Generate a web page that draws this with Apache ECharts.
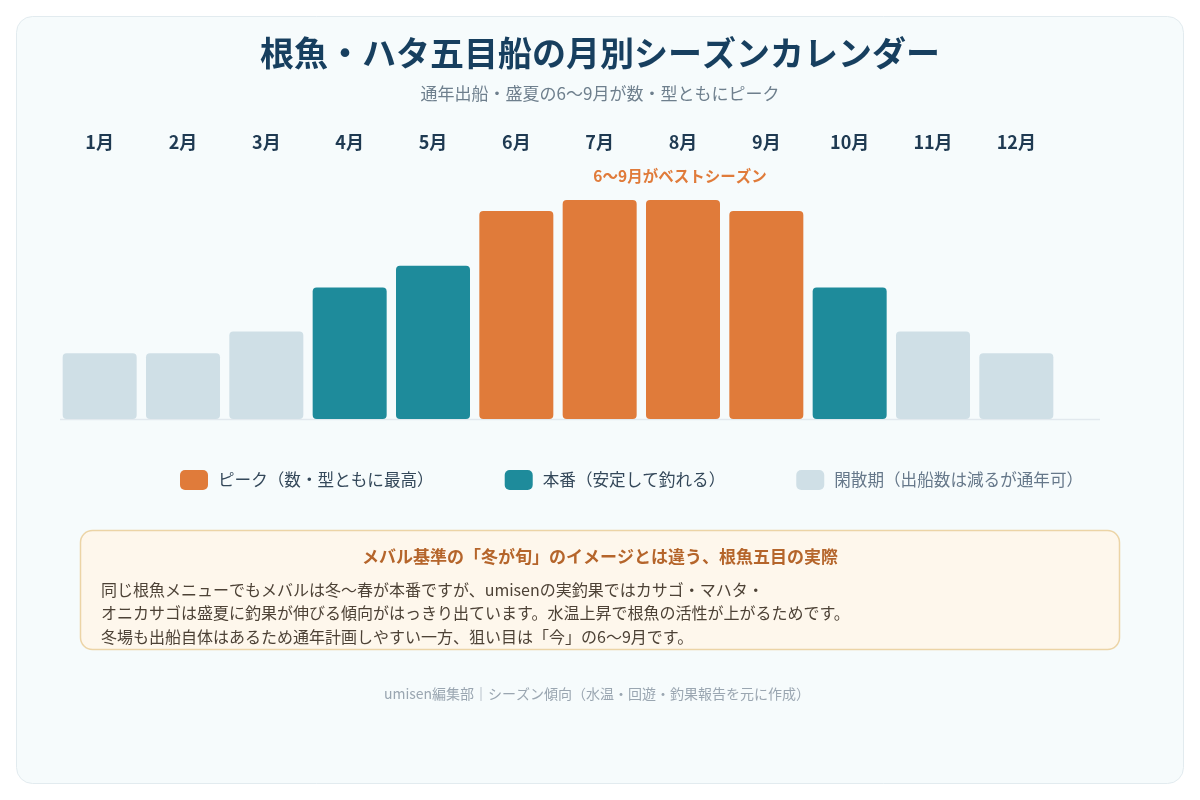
<!DOCTYPE html>
<html>
<head>
<meta charset="utf-8">
<script src="https://cdn.jsdelivr.net/npm/echarts@6/dist/echarts.min.js"></script>
<style>
  html, body { margin: 0; padding: 0; background: #ffffff; }
  #main { width: 1200px; height: 800px; }
</style>
</head>
<body>
<div id="main"></div>
<script>
var FONT = "'Noto Sans CJK JP', 'Noto Sans', sans-serif";

// data
var months = ['1月', '2月', '3月', '4月', '5月', '6月', '7月', '8月', '9月', '10月', '11月', '12月'];
var seasonValues = [30, 30, 40, 60, 70, 95, 100, 100, 95, 60, 40, 30];
var seasonLevels = ['off', 'off', 'off', 'main', 'main', 'peak', 'peak', 'peak', 'peak', 'main', 'off', 'off'];
var levelKeys = ['peak', 'main', 'off'];
var levelNames = ['ピーク（数・型ともに最高）', '本番（安定して釣れる）', '閑散期（出船数は減るが通年可）'];
var levelColors = ['#E07B3A', '#1E8B9B', '#CFDFE6'];
var levelTextColors = ['#34485a', '#34485a', '#66788a'];
var bestSeasonText = '6〜9月がベストシーズン';
var bestSeasonMonth = '8月';

var noteTitle = 'メバル基準の「冬が旬」のイメージとは違う、根魚五目の実際';
var noteLines = [
    '同じ根魚メニューでもメバルは冬〜春が本番ですが、umisenの実釣果ではカサゴ・マハタ・',
    'オニカサゴは盛夏に釣果が伸びる傾向がはっきり出ています。水温上昇で根魚の活性が上がるためです。',
    '冬場も出船自体はあるため通年計画しやすい一方、狙い目は「今」の6〜9月です。'
];
var footerText = 'umisen編集部｜シーズン傾向（水温・回遊・釣果報告を元に作成）';

var myChart = echarts.init(document.getElementById('main'));

var series = levelKeys.map(function (key, k) {
    return {
        name: levelNames[k],
        type: 'bar',
        stack: 'season',
        barWidth: 74,
        itemStyle: { color: levelColors[k], borderRadius: 4 },
        data: seasonValues.map(function (v, i) {
            if (seasonLevels[i] !== key) return null;
            if (months[i] === bestSeasonMonth) {
                return {
                    value: v,
                    label: {
                        show: true,
                        position: 'top',
                        distance: 16,
                        offset: [-3, 0],
                        formatter: bestSeasonText,
                        color: '#E07B3A',
                        fontWeight: 'bold',
                        fontSize: 15.5,
                        fontFamily: FONT
                    }
                };
            }
            return v;
        })
    };
});

var option = {
    backgroundColor: '#ffffff',
    animation: false,
    title: {
        text: '根魚・ハタ五目船の月別シーズンカレンダー',
        subtext: '通年出船・盛夏の6〜9月が数・型ともにピーク',
        left: 'center',
        top: 28,
        itemGap: 11,
        textStyle: {
            fontFamily: FONT,
            fontSize: 34,
            lineHeight: 40,
            fontWeight: 'bold',
            color: '#173f5f'
        },
        subtextStyle: {
            fontFamily: FONT,
            fontSize: 17,
            lineHeight: 20,
            color: '#6e7f8d'
        }
    },
    legend: {
        left: 180,
        top: 470,
        padding: 0,
        itemWidth: 28,
        itemHeight: 20,
        itemGap: 71,
        icon: 'roundRect',
        textStyle: { fontFamily: FONT, fontSize: 16.6, padding: [0, 0, 0, 5] },
        data: levelNames.map(function (n, k) {
            return { name: n, textStyle: { color: levelTextColors[k] } };
        })
    },
    grid: { left: 58, width: 1000, top: 200, height: 219 },
    xAxis: [{
        type: 'category',
        data: months,
        position: 'bottom',
        axisLine: { show: false },
        axisTick: { show: false },
        axisLabel: { show: false }
    }, {
        type: 'category',
        data: months,
        position: 'top',
        axisLine: { show: false },
        axisTick: { show: false },
        axisLabel: {
            margin: 49,
            fontFamily: FONT,
            fontSize: 18,
            fontWeight: 'bold',
            color: '#1f3a52'
        }
    }],
    yAxis: {
        type: 'value',
        min: 0,
        max: 100,
        show: false
    },
    series: series,
    graphic: [
        {
            type: 'rect',
            z: -10,
            shape: { x: 16.5, y: 16.5, width: 1167, height: 767, r: 16 },
            style: { fill: '#f6fbfc', stroke: '#e2ebef', lineWidth: 1 }
        },
        {
            type: 'line',
            z: -5,
            shape: { x1: 60, y1: 419.5, x2: 1100, y2: 419.5 },
            style: { stroke: '#e2e9ee', lineWidth: 1.5 }
        },
        {
            type: 'rect',
            shape: { x: 80.5, y: 530.5, width: 1039, height: 119, r: 12 },
            style: { fill: '#fef7ec', stroke: '#ecd4a6', lineWidth: 1.5 }
        },
        {
            type: 'text',
            x: 600,
            y: 557,
            style: {
                text: noteTitle,
                align: 'center',
                verticalAlign: 'middle',
                fontFamily: FONT,
                fontSize: 17,
                fontWeight: 'bold',
                fill: '#b5652b'
            }
        },
        {
            type: 'text',
            x: 101,
            y: 578,
            style: {
                text: noteLines.join('\n'),
                align: 'left',
                verticalAlign: 'top',
                fontFamily: FONT,
                fontSize: 16,
                lineHeight: 23.5,
                fill: '#4d4236'
            }
        },
        {
            type: 'text',
            x: 597,
            y: 694,
            style: {
                text: footerText,
                align: 'center',
                verticalAlign: 'middle',
                fontFamily: FONT,
                fontSize: 14,
                fill: '#9aa6b1'
            }
        }
    ]
};

myChart.setOption(option);
</script>
</body>
</html>
